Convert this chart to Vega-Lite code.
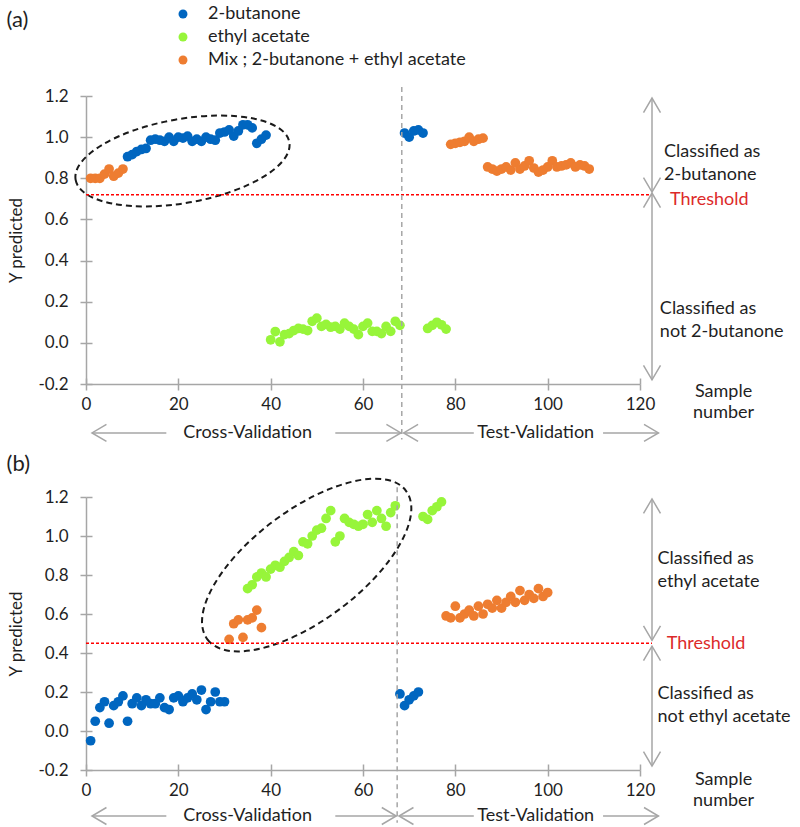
{
 "$schema": "https://vega.github.io/schema/vega-lite/v6.json",
 "padding": {"left": 6, "top": 5, "right": 0, "bottom": 0},
 "background": "white",
 "config": {
  "view": {"stroke": null},
  "font": "Lato",
  "text": {"font": "Lato", "fontSize": 18, "color": "#1f1f1f"},
  "axis": {"labelFont": "Lato", "labelFontSize": 17, "labelColor": "#1f1f1f", "domainColor": "#a6a6a6", "tickColor": "#a6a6a6", "domainWidth": 1.5, "tickWidth": 1.5, "grid": false, "titleFont": "Lato", "titleFontWeight": "normal", "titleColor": "#1f1f1f", "labelOverlap": false, "labelFlush": false}
 },
 "datasets": {
  "a": [
   {"sample":1,"y":0.8,"group":"Mix ; 2-butanone + ethyl acetate"},
   {"sample":2,"y":0.8,"group":"Mix ; 2-butanone + ethyl acetate"},
   {"sample":3,"y":0.8,"group":"Mix ; 2-butanone + ethyl acetate"},
   {"sample":4,"y":0.82,"group":"Mix ; 2-butanone + ethyl acetate"},
   {"sample":5,"y":0.845,"group":"Mix ; 2-butanone + ethyl acetate"},
   {"sample":6,"y":0.81,"group":"Mix ; 2-butanone + ethyl acetate"},
   {"sample":7,"y":0.825,"group":"Mix ; 2-butanone + ethyl acetate"},
   {"sample":8,"y":0.845,"group":"Mix ; 2-butanone + ethyl acetate"},
   {"sample":9,"y":0.905,"group":"2-butanone"},
   {"sample":10,"y":0.915,"group":"2-butanone"},
   {"sample":11,"y":0.93,"group":"2-butanone"},
   {"sample":12,"y":0.94,"group":"2-butanone"},
   {"sample":13,"y":0.945,"group":"2-butanone"},
   {"sample":14,"y":0.985,"group":"2-butanone"},
   {"sample":15,"y":0.99,"group":"2-butanone"},
   {"sample":16,"y":0.985,"group":"2-butanone"},
   {"sample":17,"y":0.98,"group":"2-butanone"},
   {"sample":18,"y":1.0,"group":"2-butanone"},
   {"sample":19,"y":0.98,"group":"2-butanone"},
   {"sample":20,"y":1.0,"group":"2-butanone"},
   {"sample":21,"y":0.995,"group":"2-butanone"},
   {"sample":22,"y":1.005,"group":"2-butanone"},
   {"sample":23,"y":0.98,"group":"2-butanone"},
   {"sample":24,"y":0.99,"group":"2-butanone"},
   {"sample":25,"y":0.98,"group":"2-butanone"},
   {"sample":26,"y":1.0,"group":"2-butanone"},
   {"sample":27,"y":0.99,"group":"2-butanone"},
   {"sample":28,"y":0.985,"group":"2-butanone"},
   {"sample":29,"y":1.02,"group":"2-butanone"},
   {"sample":30,"y":1.025,"group":"2-butanone"},
   {"sample":31,"y":1.035,"group":"2-butanone"},
   {"sample":32,"y":1.005,"group":"2-butanone"},
   {"sample":33,"y":1.03,"group":"2-butanone"},
   {"sample":34,"y":1.06,"group":"2-butanone"},
   {"sample":35,"y":1.06,"group":"2-butanone"},
   {"sample":36,"y":1.045,"group":"2-butanone"},
   {"sample":37,"y":0.97,"group":"2-butanone"},
   {"sample":38,"y":0.99,"group":"2-butanone"},
   {"sample":39,"y":1.01,"group":"2-butanone"},
   {"sample":40,"y":0.015,"group":"ethyl acetate"},
   {"sample":41,"y":0.055,"group":"ethyl acetate"},
   {"sample":42,"y":0.005,"group":"ethyl acetate"},
   {"sample":43,"y":0.04,"group":"ethyl acetate"},
   {"sample":44,"y":0.045,"group":"ethyl acetate"},
   {"sample":45,"y":0.06,"group":"ethyl acetate"},
   {"sample":46,"y":0.07,"group":"ethyl acetate"},
   {"sample":47,"y":0.067,"group":"ethyl acetate"},
   {"sample":48,"y":0.06,"group":"ethyl acetate"},
   {"sample":49,"y":0.105,"group":"ethyl acetate"},
   {"sample":50,"y":0.12,"group":"ethyl acetate"},
   {"sample":51,"y":0.08,"group":"ethyl acetate"},
   {"sample":52,"y":0.09,"group":"ethyl acetate"},
   {"sample":53,"y":0.076,"group":"ethyl acetate"},
   {"sample":54,"y":0.08,"group":"ethyl acetate"},
   {"sample":55,"y":0.067,"group":"ethyl acetate"},
   {"sample":56,"y":0.096,"group":"ethyl acetate"},
   {"sample":57,"y":0.08,"group":"ethyl acetate"},
   {"sample":58,"y":0.067,"group":"ethyl acetate"},
   {"sample":59,"y":0.04,"group":"ethyl acetate"},
   {"sample":60,"y":0.08,"group":"ethyl acetate"},
   {"sample":61,"y":0.096,"group":"ethyl acetate"},
   {"sample":62,"y":0.056,"group":"ethyl acetate"},
   {"sample":63,"y":0.056,"group":"ethyl acetate"},
   {"sample":64,"y":0.045,"group":"ethyl acetate"},
   {"sample":65,"y":0.08,"group":"ethyl acetate"},
   {"sample":66,"y":0.056,"group":"ethyl acetate"},
   {"sample":67,"y":0.105,"group":"ethyl acetate"},
   {"sample":68,"y":0.085,"group":"ethyl acetate"},
   {"sample":69,"y":1.02,"group":"2-butanone"},
   {"sample":70,"y":1.0,"group":"2-butanone"},
   {"sample":71,"y":1.03,"group":"2-butanone"},
   {"sample":72,"y":1.035,"group":"2-butanone"},
   {"sample":73,"y":1.02,"group":"2-butanone"},
   {"sample":74,"y":0.07,"group":"ethyl acetate"},
   {"sample":75,"y":0.085,"group":"ethyl acetate"},
   {"sample":76,"y":0.1,"group":"ethyl acetate"},
   {"sample":77,"y":0.088,"group":"ethyl acetate"},
   {"sample":78,"y":0.067,"group":"ethyl acetate"},
   {"sample":79,"y":0.965,"group":"Mix ; 2-butanone + ethyl acetate"},
   {"sample":80,"y":0.97,"group":"Mix ; 2-butanone + ethyl acetate"},
   {"sample":81,"y":0.975,"group":"Mix ; 2-butanone + ethyl acetate"},
   {"sample":82,"y":0.98,"group":"Mix ; 2-butanone + ethyl acetate"},
   {"sample":83,"y":1.0,"group":"Mix ; 2-butanone + ethyl acetate"},
   {"sample":84,"y":0.98,"group":"Mix ; 2-butanone + ethyl acetate"},
   {"sample":85,"y":0.99,"group":"Mix ; 2-butanone + ethyl acetate"},
   {"sample":86,"y":0.995,"group":"Mix ; 2-butanone + ethyl acetate"},
   {"sample":87,"y":0.855,"group":"Mix ; 2-butanone + ethyl acetate"},
   {"sample":88,"y":0.845,"group":"Mix ; 2-butanone + ethyl acetate"},
   {"sample":89,"y":0.835,"group":"Mix ; 2-butanone + ethyl acetate"},
   {"sample":90,"y":0.845,"group":"Mix ; 2-butanone + ethyl acetate"},
   {"sample":91,"y":0.855,"group":"Mix ; 2-butanone + ethyl acetate"},
   {"sample":92,"y":0.84,"group":"Mix ; 2-butanone + ethyl acetate"},
   {"sample":93,"y":0.875,"group":"Mix ; 2-butanone + ethyl acetate"},
   {"sample":94,"y":0.845,"group":"Mix ; 2-butanone + ethyl acetate"},
   {"sample":95,"y":0.86,"group":"Mix ; 2-butanone + ethyl acetate"},
   {"sample":96,"y":0.885,"group":"Mix ; 2-butanone + ethyl acetate"},
   {"sample":97,"y":0.85,"group":"Mix ; 2-butanone + ethyl acetate"},
   {"sample":98,"y":0.83,"group":"Mix ; 2-butanone + ethyl acetate"},
   {"sample":99,"y":0.84,"group":"Mix ; 2-butanone + ethyl acetate"},
   {"sample":100,"y":0.855,"group":"Mix ; 2-butanone + ethyl acetate"},
   {"sample":101,"y":0.885,"group":"Mix ; 2-butanone + ethyl acetate"},
   {"sample":102,"y":0.855,"group":"Mix ; 2-butanone + ethyl acetate"},
   {"sample":103,"y":0.86,"group":"Mix ; 2-butanone + ethyl acetate"},
   {"sample":104,"y":0.865,"group":"Mix ; 2-butanone + ethyl acetate"},
   {"sample":105,"y":0.875,"group":"Mix ; 2-butanone + ethyl acetate"},
   {"sample":106,"y":0.855,"group":"Mix ; 2-butanone + ethyl acetate"},
   {"sample":107,"y":0.865,"group":"Mix ; 2-butanone + ethyl acetate"},
   {"sample":108,"y":0.86,"group":"Mix ; 2-butanone + ethyl acetate"},
   {"sample":109,"y":0.845,"group":"Mix ; 2-butanone + ethyl acetate"}
  ],
  "b": [
   {"sample":1,"y":-0.05,"group":"2-butanone"},
   {"sample":2,"y":0.05,"group":"2-butanone"},
   {"sample":3,"y":0.12,"group":"2-butanone"},
   {"sample":4,"y":0.15,"group":"2-butanone"},
   {"sample":5,"y":0.04,"group":"2-butanone"},
   {"sample":6,"y":0.13,"group":"2-butanone"},
   {"sample":7,"y":0.15,"group":"2-butanone"},
   {"sample":8,"y":0.18,"group":"2-butanone"},
   {"sample":9,"y":0.05,"group":"2-butanone"},
   {"sample":10,"y":0.14,"group":"2-butanone"},
   {"sample":11,"y":0.17,"group":"2-butanone"},
   {"sample":12,"y":0.13,"group":"2-butanone"},
   {"sample":13,"y":0.16,"group":"2-butanone"},
   {"sample":14,"y":0.14,"group":"2-butanone"},
   {"sample":15,"y":0.14,"group":"2-butanone"},
   {"sample":16,"y":0.17,"group":"2-butanone"},
   {"sample":17,"y":0.12,"group":"2-butanone"},
   {"sample":18,"y":0.11,"group":"2-butanone"},
   {"sample":19,"y":0.17,"group":"2-butanone"},
   {"sample":20,"y":0.18,"group":"2-butanone"},
   {"sample":21,"y":0.15,"group":"2-butanone"},
   {"sample":22,"y":0.17,"group":"2-butanone"},
   {"sample":23,"y":0.19,"group":"2-butanone"},
   {"sample":24,"y":0.16,"group":"2-butanone"},
   {"sample":25,"y":0.21,"group":"2-butanone"},
   {"sample":26,"y":0.11,"group":"2-butanone"},
   {"sample":27,"y":0.15,"group":"2-butanone"},
   {"sample":28,"y":0.2,"group":"2-butanone"},
   {"sample":29,"y":0.15,"group":"2-butanone"},
   {"sample":30,"y":0.15,"group":"2-butanone"},
   {"sample":31,"y":0.47,"group":"Mix ; 2-butanone + ethyl acetate"},
   {"sample":32,"y":0.55,"group":"Mix ; 2-butanone + ethyl acetate"},
   {"sample":33,"y":0.57,"group":"Mix ; 2-butanone + ethyl acetate"},
   {"sample":34,"y":0.48,"group":"Mix ; 2-butanone + ethyl acetate"},
   {"sample":35,"y":0.57,"group":"Mix ; 2-butanone + ethyl acetate"},
   {"sample":36,"y":0.58,"group":"Mix ; 2-butanone + ethyl acetate"},
   {"sample":37,"y":0.62,"group":"Mix ; 2-butanone + ethyl acetate"},
   {"sample":38,"y":0.53,"group":"Mix ; 2-butanone + ethyl acetate"},
   {"sample":35,"y":0.73,"group":"ethyl acetate"},
   {"sample":36,"y":0.75,"group":"ethyl acetate"},
   {"sample":37,"y":0.79,"group":"ethyl acetate"},
   {"sample":38,"y":0.81,"group":"ethyl acetate"},
   {"sample":39,"y":0.79,"group":"ethyl acetate"},
   {"sample":40,"y":0.83,"group":"ethyl acetate"},
   {"sample":41,"y":0.85,"group":"ethyl acetate"},
   {"sample":42,"y":0.84,"group":"ethyl acetate"},
   {"sample":43,"y":0.87,"group":"ethyl acetate"},
   {"sample":44,"y":0.89,"group":"ethyl acetate"},
   {"sample":45,"y":0.92,"group":"ethyl acetate"},
   {"sample":46,"y":0.9,"group":"ethyl acetate"},
   {"sample":47,"y":0.97,"group":"ethyl acetate"},
   {"sample":48,"y":0.96,"group":"ethyl acetate"},
   {"sample":49,"y":1.0,"group":"ethyl acetate"},
   {"sample":50,"y":1.03,"group":"ethyl acetate"},
   {"sample":51,"y":1.04,"group":"ethyl acetate"},
   {"sample":52,"y":1.09,"group":"ethyl acetate"},
   {"sample":53,"y":1.13,"group":"ethyl acetate"},
   {"sample":54,"y":0.97,"group":"ethyl acetate"},
   {"sample":55,"y":1.0,"group":"ethyl acetate"},
   {"sample":56,"y":1.09,"group":"ethyl acetate"},
   {"sample":57,"y":1.07,"group":"ethyl acetate"},
   {"sample":58,"y":1.06,"group":"ethyl acetate"},
   {"sample":59,"y":1.05,"group":"ethyl acetate"},
   {"sample":60,"y":1.06,"group":"ethyl acetate"},
   {"sample":61,"y":1.11,"group":"ethyl acetate"},
   {"sample":62,"y":1.07,"group":"ethyl acetate"},
   {"sample":63,"y":1.13,"group":"ethyl acetate"},
   {"sample":64,"y":1.09,"group":"ethyl acetate"},
   {"sample":65,"y":1.05,"group":"ethyl acetate"},
   {"sample":66,"y":1.12,"group":"ethyl acetate"},
   {"sample":67,"y":1.155,"group":"ethyl acetate"},
   {"sample":68,"y":0.19,"group":"2-butanone"},
   {"sample":69,"y":0.13,"group":"2-butanone"},
   {"sample":70,"y":0.16,"group":"2-butanone"},
   {"sample":71,"y":0.18,"group":"2-butanone"},
   {"sample":72,"y":0.2,"group":"2-butanone"},
   {"sample":73,"y":1.1,"group":"ethyl acetate"},
   {"sample":74,"y":1.085,"group":"ethyl acetate"},
   {"sample":75,"y":1.13,"group":"ethyl acetate"},
   {"sample":76,"y":1.15,"group":"ethyl acetate"},
   {"sample":77,"y":1.175,"group":"ethyl acetate"},
   {"sample":78,"y":0.59,"group":"Mix ; 2-butanone + ethyl acetate"},
   {"sample":79,"y":0.58,"group":"Mix ; 2-butanone + ethyl acetate"},
   {"sample":80,"y":0.64,"group":"Mix ; 2-butanone + ethyl acetate"},
   {"sample":81,"y":0.58,"group":"Mix ; 2-butanone + ethyl acetate"},
   {"sample":82,"y":0.6,"group":"Mix ; 2-butanone + ethyl acetate"},
   {"sample":83,"y":0.62,"group":"Mix ; 2-butanone + ethyl acetate"},
   {"sample":84,"y":0.59,"group":"Mix ; 2-butanone + ethyl acetate"},
   {"sample":85,"y":0.64,"group":"Mix ; 2-butanone + ethyl acetate"},
   {"sample":86,"y":0.6,"group":"Mix ; 2-butanone + ethyl acetate"},
   {"sample":87,"y":0.65,"group":"Mix ; 2-butanone + ethyl acetate"},
   {"sample":88,"y":0.63,"group":"Mix ; 2-butanone + ethyl acetate"},
   {"sample":89,"y":0.67,"group":"Mix ; 2-butanone + ethyl acetate"},
   {"sample":90,"y":0.63,"group":"Mix ; 2-butanone + ethyl acetate"},
   {"sample":91,"y":0.66,"group":"Mix ; 2-butanone + ethyl acetate"},
   {"sample":92,"y":0.69,"group":"Mix ; 2-butanone + ethyl acetate"},
   {"sample":93,"y":0.66,"group":"Mix ; 2-butanone + ethyl acetate"},
   {"sample":94,"y":0.72,"group":"Mix ; 2-butanone + ethyl acetate"},
   {"sample":95,"y":0.67,"group":"Mix ; 2-butanone + ethyl acetate"},
   {"sample":96,"y":0.7,"group":"Mix ; 2-butanone + ethyl acetate"},
   {"sample":97,"y":0.68,"group":"Mix ; 2-butanone + ethyl acetate"},
   {"sample":98,"y":0.73,"group":"Mix ; 2-butanone + ethyl acetate"},
   {"sample":99,"y":0.69,"group":"Mix ; 2-butanone + ethyl acetate"},
   {"sample":100,"y":0.71,"group":"Mix ; 2-butanone + ethyl acetate"}
  ]
 },
 "spacing": 8,
 "resolve": {"scale": {"color": "independent"}, "legend": {"color": "independent"}},
 "vconcat": [
  {
   "width": 554, "height": 288,
   "resolve": {"axis": {"x": "independent", "y": "independent"}},
   "layer": [
    {"data": {"name": "a"}, "mark": {"type": "circle", "size": 95, "opacity": 1},
     "encoding": {
      "x": {"field": "sample", "type": "quantitative", "scale": {"domain": [0, 120], "nice": false},
            "axis": {"orient": "bottom", "values": [0, 20, 40, 60, 80, 100, 120], "format": "d", "title": null, "tickSize": 6, "labelPadding": 6, "labelOverlap": false, "labelFlush": false}},
      "y": {"field": "y", "type": "quantitative", "scale": {"domain": [-0.2, 1.2], "nice": false},
            "axis": {"orient": "left", "values": [-0.2, 0, 0.2, 0.4, 0.6, 0.8, 1, 1.2], "labelExpr": "replace(format(datum.value, '.1f'), '\u2212', '-')", "title": "Y predicted", "titleFontSize": 17, "titlePadding": 12, "tickSize": 6, "labelPadding": 12, "labelOverlap": false}},
      "color": {"field": "group", "type": "nominal",
                "scale": {"domain": ["2-butanone", "ethyl acetate", "Mix ; 2-butanone + ethyl acetate"], "range": ["#0066c0", "#97f53a", "#ee7d31"]},
                "legend": {"orient": "none", "legendX": 88, "legendY": -91, "title": null, "symbolType": "circle", "symbolSize": 80, "labelFont": "Lato", "labelFontSize": 18, "labelLimit": 500, "labelColor": "#1f1f1f", "rowPadding": 5, "labelOffset": 16, "padding": 0, "symbolStrokeWidth": 0, "symbolOpacity": 1}}
     }},
    {"data": {"values": [{}]}, "mark": {"type": "point", "opacity": 0},
     "encoding": {"x": {"datum": 0, "type": "quantitative", "axis": {"orient": "bottom", "offset": -6, "values": [0, 20, 40, 60, 80, 100, 120], "domain": false, "labels": false, "title": null, "tickSize": 6}},
                  "y": {"datum": 0, "type": "quantitative", "axis": {"orient": "left", "offset": -6, "values": [-0.2, 0, 0.2, 0.4, 0.6, 0.8, 1, 1.2], "domain": false, "labels": false, "title": null, "tickSize": 6}}}},
    {"data": {"values": [{}]}, "mark": {"type": "point", "shape": "M-1,0A1,0.387,0,1,0,1,0A1,0.387,0,1,0,-1,0Z", "size": 47089, "angle": -10, "filled": false, "color": "#1a1a1a", "strokeWidth": 2, "strokeDash": [6, 4], "opacity": 1},
     "encoding": {"x": {"datum": 20.9, "type": "quantitative", "axis": null}, "y": {"datum": 0.884, "type": "quantitative", "axis": null}}},
    {"data": {"values": [{}]}, "mark": {"type": "rule", "color": "#ff0000", "strokeWidth": 1.5, "strokeDash": [3, 2]},
     "encoding": {"x": {"datum": 0, "type": "quantitative", "axis": null}, "x2": {"datum": 122.6}, "y": {"datum": 0.72, "type": "quantitative", "axis": null}}},
    {"data": {"values": [{}]}, "mark": {"type": "rule", "color": "#a6a6a6", "strokeWidth": 1.5, "strokeDash": [5, 4]},
     "encoding": {"x": {"datum": 68.4, "type": "quantitative", "axis": null}, "y": {"datum": 1.244, "type": "quantitative", "axis": null}, "y2": {"datum": -0.47}}},
    {"data": {"values": [{}]}, "mark": {"type": "text", "text": "(a)", "align": "left", "baseline": "middle", "fontSize": 22},
     "encoding": {"x": {"datum": -17.2, "type": "quantitative", "axis": null}, "y": {"datum": 1.57, "type": "quantitative", "axis": null}}},
    {"data": {"values": [{}]}, "mark": {"type": "text", "text": ["Classified as", "2-butanone"], "align": "left", "baseline": "middle", "lineHeight": 23},
     "encoding": {"x": {"datum": 125.2, "type": "quantitative", "axis": null}, "y": {"datum": 0.93, "type": "quantitative", "axis": null}}},
    {"data": {"values": [{}]}, "mark": {"type": "text", "text": "Threshold", "align": "left", "baseline": "middle", "color": "#dc2a2a"},
     "encoding": {"x": {"datum": 126.5, "type": "quantitative", "axis": null}, "y": {"datum": 0.694, "type": "quantitative", "axis": null}}},
    {"data": {"values": [{}]}, "mark": {"type": "text", "text": ["Classified as", "not 2-butanone"], "align": "left", "baseline": "middle", "lineHeight": 23},
     "encoding": {"x": {"datum": 124.3, "type": "quantitative", "axis": null}, "y": {"datum": 0.167, "type": "quantitative", "axis": null}}},
    {"data": {"values": [{}]}, "mark": {"type": "text", "text": ["Sample", "number"], "align": "center", "baseline": "middle", "lineHeight": 21},
     "encoding": {"x": {"datum": 138.1, "type": "quantitative", "axis": null}, "y": {"datum": -0.241, "type": "quantitative", "axis": null}}},
    {"data": {"values": [{}]}, "mark": {"type": "text", "text": "Cross-Validation", "align": "center", "baseline": "middle"},
     "encoding": {"x": {"datum": 35, "type": "quantitative", "axis": null}, "y": {"datum": -0.438, "type": "quantitative", "axis": null}}},
    {"data": {"values": [{}]}, "mark": {"type": "text", "text": "Test-Validation", "align": "center", "baseline": "middle"},
     "encoding": {"x": {"datum": 97.4, "type": "quantitative", "axis": null}, "y": {"datum": -0.438, "type": "quantitative", "axis": null}}},
    {"data": {"values": [{}]}, "mark": {"type": "rule", "color": "#a6a6a6", "strokeWidth": 1.5},
     "encoding": {"x": {"datum": 122.6, "type": "quantitative", "axis": null}, "y": {"datum": 1.19, "type": "quantitative", "axis": null}, "y2": {"datum": 0.733}}},
    {"data": {"values": [{}]}, "mark": {"type": "rule", "color": "#a6a6a6", "strokeWidth": 1.5},
     "encoding": {"x": {"datum": 122.6, "type": "quantitative", "axis": null}, "y": {"datum": 0.728, "type": "quantitative", "axis": null}, "y2": {"datum": -0.18}}},
    {"data": {"values": [{}]}, "mark": {"type": "rule", "color": "#a6a6a6", "strokeWidth": 1.5},
     "encoding": {"x": {"datum": 1.3, "type": "quantitative", "axis": null}, "x2": {"datum": 17.4}, "y": {"datum": -0.438, "type": "quantitative", "axis": null}}},
    {"data": {"values": [{}]}, "mark": {"type": "rule", "color": "#a6a6a6", "strokeWidth": 1.5},
     "encoding": {"x": {"datum": 54, "type": "quantitative", "axis": null}, "x2": {"datum": 68.2}, "y": {"datum": -0.438, "type": "quantitative", "axis": null}}},
    {"data": {"values": [{}]}, "mark": {"type": "rule", "color": "#a6a6a6", "strokeWidth": 1.5},
     "encoding": {"x": {"datum": 68.8, "type": "quantitative", "axis": null}, "x2": {"datum": 84}, "y": {"datum": -0.438, "type": "quantitative", "axis": null}}},
    {"data": {"values": [{}]}, "mark": {"type": "rule", "color": "#a6a6a6", "strokeWidth": 1.5},
     "encoding": {"x": {"datum": 112, "type": "quantitative", "axis": null}, "x2": {"datum": 124}, "y": {"datum": -0.438, "type": "quantitative", "axis": null}}},
    {"data": {"values": [{}]}, "mark": {"type": "point", "shape": "M-1,1.7L0,0L1,1.7", "size": 289, "filled": false, "color": "#a6a6a6", "strokeWidth": 1.5, "opacity": 1},
     "encoding": {"x": {"datum": 122.6, "type": "quantitative", "axis": null}, "y": {"datum": 1.19, "type": "quantitative", "axis": null}}},
    {"data": {"values": [{}]}, "mark": {"type": "point", "shape": "M-1,-1.7L0,0L1,-1.7", "size": 289, "filled": false, "color": "#a6a6a6", "strokeWidth": 1.5, "opacity": 1},
     "encoding": {"x": {"datum": 122.6, "type": "quantitative", "axis": null}, "y": {"datum": 0.733, "type": "quantitative", "axis": null}}},
    {"data": {"values": [{}]}, "mark": {"type": "point", "shape": "M-1,1.7L0,0L1,1.7", "size": 289, "filled": false, "color": "#a6a6a6", "strokeWidth": 1.5, "opacity": 1},
     "encoding": {"x": {"datum": 122.6, "type": "quantitative", "axis": null}, "y": {"datum": 0.728, "type": "quantitative", "axis": null}}},
    {"data": {"values": [{}]}, "mark": {"type": "point", "shape": "M-1,-1.7L0,0L1,-1.7", "size": 289, "filled": false, "color": "#a6a6a6", "strokeWidth": 1.5, "opacity": 1},
     "encoding": {"x": {"datum": 122.6, "type": "quantitative", "axis": null}, "y": {"datum": -0.18, "type": "quantitative", "axis": null}}},
    {"data": {"values": [{}]}, "mark": {"type": "point", "shape": "M1.7,-1L0,0L1.7,1", "size": 289, "filled": false, "color": "#a6a6a6", "strokeWidth": 1.5, "opacity": 1},
     "encoding": {"x": {"datum": 1.3, "type": "quantitative", "axis": null}, "y": {"datum": -0.438, "type": "quantitative", "axis": null}}},
    {"data": {"values": [{}]}, "mark": {"type": "point", "shape": "M-1.7,-1L0,0L-1.7,1", "size": 289, "filled": false, "color": "#a6a6a6", "strokeWidth": 1.5, "opacity": 1},
     "encoding": {"x": {"datum": 68.2, "type": "quantitative", "axis": null}, "y": {"datum": -0.438, "type": "quantitative", "axis": null}}},
    {"data": {"values": [{}]}, "mark": {"type": "point", "shape": "M1.7,-1L0,0L1.7,1", "size": 289, "filled": false, "color": "#a6a6a6", "strokeWidth": 1.5, "opacity": 1},
     "encoding": {"x": {"datum": 68.8, "type": "quantitative", "axis": null}, "y": {"datum": -0.438, "type": "quantitative", "axis": null}}},
    {"data": {"values": [{}]}, "mark": {"type": "point", "shape": "M-1.7,-1L0,0L-1.7,1", "size": 289, "filled": false, "color": "#a6a6a6", "strokeWidth": 1.5, "opacity": 1},
     "encoding": {"x": {"datum": 124, "type": "quantitative", "axis": null}, "y": {"datum": -0.438, "type": "quantitative", "axis": null}}}
   ]
  },
  {
   "width": 554, "height": 273,
   "resolve": {"axis": {"x": "independent", "y": "independent"}},
   "layer": [
    {"data": {"name": "b"}, "mark": {"type": "circle", "size": 95, "opacity": 1},
     "encoding": {
      "x": {"field": "sample", "type": "quantitative", "scale": {"domain": [0, 120], "nice": false},
            "axis": {"orient": "bottom", "values": [0, 20, 40, 60, 80, 100, 120], "format": "d", "title": null, "tickSize": 6, "labelPadding": 6, "labelOverlap": false, "labelFlush": false}},
      "y": {"field": "y", "type": "quantitative", "scale": {"domain": [-0.2, 1.2], "nice": false},
            "axis": {"orient": "left", "values": [-0.2, 0, 0.2, 0.4, 0.6, 0.8, 1, 1.2], "labelExpr": "replace(format(datum.value, '.1f'), '\u2212', '-')", "title": "Y predicted", "titleFontSize": 17, "titlePadding": 12, "tickSize": 6, "labelPadding": 12, "labelOverlap": false}},
      "color": {"field": "group", "type": "nominal",
                "scale": {"domain": ["2-butanone", "ethyl acetate", "Mix ; 2-butanone + ethyl acetate"], "range": ["#0066c0", "#97f53a", "#ee7d31"]},
                "legend": null}
     }},
    {"data": {"values": [{}]}, "mark": {"type": "point", "opacity": 0},
     "encoding": {"x": {"datum": 0, "type": "quantitative", "axis": {"orient": "bottom", "offset": -6, "values": [0, 20, 40, 60, 80, 100, 120], "domain": false, "labels": false, "title": null, "tickSize": 6}},
                  "y": {"datum": 0, "type": "quantitative", "axis": {"orient": "left", "offset": -6, "values": [-0.2, 0, 0.2, 0.4, 0.6, 0.8, 1, 1.2], "domain": false, "labels": false, "title": null, "tickSize": 6}}}},
    {"data": {"values": [{}]}, "mark": {"type": "point", "shape": "M-1,0A1,0.444,0,1,0,1,0A1,0.444,0,1,0,-1,0Z", "size": 61504, "angle": -36.8, "filled": false, "color": "#1a1a1a", "strokeWidth": 2, "strokeDash": [6, 4], "opacity": 1},
     "encoding": {"x": {"datum": 47.8, "type": "quantitative", "axis": null}, "y": {"datum": 0.851, "type": "quantitative", "axis": null}}},
    {"data": {"values": [{}]}, "mark": {"type": "rule", "color": "#ff0000", "strokeWidth": 1.5, "strokeDash": [3, 2]},
     "encoding": {"x": {"datum": 0, "type": "quantitative", "axis": null}, "x2": {"datum": 122.6}, "y": {"datum": 0.45, "type": "quantitative", "axis": null}}},
    {"data": {"values": [{}]}, "mark": {"type": "rule", "color": "#a6a6a6", "strokeWidth": 1.5, "strokeDash": [5, 4]},
     "encoding": {"x": {"datum": 67.4, "type": "quantitative", "axis": null}, "y": {"datum": 1.25, "type": "quantitative", "axis": null}, "y2": {"datum": -0.47}}},
    {"data": {"values": [{}]}, "mark": {"type": "text", "text": "(b)", "align": "left", "baseline": "middle", "fontSize": 22},
     "encoding": {"x": {"datum": -17.2, "type": "quantitative", "axis": null}, "y": {"datum": 1.369, "type": "quantitative", "axis": null}}},
    {"data": {"values": [{}]}, "mark": {"type": "text", "text": ["Classified as", "ethyl acetate"], "align": "left", "baseline": "middle", "lineHeight": 23},
     "encoding": {"x": {"datum": 123.8, "type": "quantitative", "axis": null}, "y": {"datum": 0.88, "type": "quantitative", "axis": null}}},
    {"data": {"values": [{}]}, "mark": {"type": "text", "text": "Threshold", "align": "left", "baseline": "middle", "color": "#dc2a2a"},
     "encoding": {"x": {"datum": 125.8, "type": "quantitative", "axis": null}, "y": {"datum": 0.445, "type": "quantitative", "axis": null}}},
    {"data": {"values": [{}]}, "mark": {"type": "text", "text": ["Classified as", "not ethyl acetate"], "align": "left", "baseline": "middle", "lineHeight": 23},
     "encoding": {"x": {"datum": 123.8, "type": "quantitative", "axis": null}, "y": {"datum": 0.19, "type": "quantitative", "axis": null}}},
    {"data": {"values": [{}]}, "mark": {"type": "text", "text": ["Sample", "number"], "align": "center", "baseline": "middle", "lineHeight": 21},
     "encoding": {"x": {"datum": 138.1, "type": "quantitative", "axis": null}, "y": {"datum": -0.25, "type": "quantitative", "axis": null}}},
    {"data": {"values": [{}]}, "mark": {"type": "text", "text": "Cross-Validation", "align": "center", "baseline": "middle"},
     "encoding": {"x": {"datum": 35, "type": "quantitative", "axis": null}, "y": {"datum": -0.436, "type": "quantitative", "axis": null}}},
    {"data": {"values": [{}]}, "mark": {"type": "text", "text": "Test-Validation", "align": "center", "baseline": "middle"},
     "encoding": {"x": {"datum": 97.4, "type": "quantitative", "axis": null}, "y": {"datum": -0.436, "type": "quantitative", "axis": null}}},
    {"data": {"values": [{}]}, "mark": {"type": "rule", "color": "#a6a6a6", "strokeWidth": 1.5},
     "encoding": {"x": {"datum": 122.6, "type": "quantitative", "axis": null}, "y": {"datum": 1.19, "type": "quantitative", "axis": null}, "y2": {"datum": 0.465}}},
    {"data": {"values": [{}]}, "mark": {"type": "rule", "color": "#a6a6a6", "strokeWidth": 1.5},
     "encoding": {"x": {"datum": 122.6, "type": "quantitative", "axis": null}, "y": {"datum": 0.435, "type": "quantitative", "axis": null}, "y2": {"datum": -0.18}}},
    {"data": {"values": [{}]}, "mark": {"type": "rule", "color": "#a6a6a6", "strokeWidth": 1.5},
     "encoding": {"x": {"datum": 1.3, "type": "quantitative", "axis": null}, "x2": {"datum": 17.4}, "y": {"datum": -0.436, "type": "quantitative", "axis": null}}},
    {"data": {"values": [{}]}, "mark": {"type": "rule", "color": "#a6a6a6", "strokeWidth": 1.5},
     "encoding": {"x": {"datum": 54, "type": "quantitative", "axis": null}, "x2": {"datum": 67.2}, "y": {"datum": -0.436, "type": "quantitative", "axis": null}}},
    {"data": {"values": [{}]}, "mark": {"type": "rule", "color": "#a6a6a6", "strokeWidth": 1.5},
     "encoding": {"x": {"datum": 67.8, "type": "quantitative", "axis": null}, "x2": {"datum": 84}, "y": {"datum": -0.436, "type": "quantitative", "axis": null}}},
    {"data": {"values": [{}]}, "mark": {"type": "rule", "color": "#a6a6a6", "strokeWidth": 1.5},
     "encoding": {"x": {"datum": 112, "type": "quantitative", "axis": null}, "x2": {"datum": 124}, "y": {"datum": -0.436, "type": "quantitative", "axis": null}}},
    {"data": {"values": [{}]}, "mark": {"type": "point", "shape": "M-1,1.7L0,0L1,1.7", "size": 289, "filled": false, "color": "#a6a6a6", "strokeWidth": 1.5, "opacity": 1},
     "encoding": {"x": {"datum": 122.6, "type": "quantitative", "axis": null}, "y": {"datum": 1.19, "type": "quantitative", "axis": null}}},
    {"data": {"values": [{}]}, "mark": {"type": "point", "shape": "M-1,-1.7L0,0L1,-1.7", "size": 289, "filled": false, "color": "#a6a6a6", "strokeWidth": 1.5, "opacity": 1},
     "encoding": {"x": {"datum": 122.6, "type": "quantitative", "axis": null}, "y": {"datum": 0.465, "type": "quantitative", "axis": null}}},
    {"data": {"values": [{}]}, "mark": {"type": "point", "shape": "M-1,1.7L0,0L1,1.7", "size": 289, "filled": false, "color": "#a6a6a6", "strokeWidth": 1.5, "opacity": 1},
     "encoding": {"x": {"datum": 122.6, "type": "quantitative", "axis": null}, "y": {"datum": 0.435, "type": "quantitative", "axis": null}}},
    {"data": {"values": [{}]}, "mark": {"type": "point", "shape": "M-1,-1.7L0,0L1,-1.7", "size": 289, "filled": false, "color": "#a6a6a6", "strokeWidth": 1.5, "opacity": 1},
     "encoding": {"x": {"datum": 122.6, "type": "quantitative", "axis": null}, "y": {"datum": -0.18, "type": "quantitative", "axis": null}}},
    {"data": {"values": [{}]}, "mark": {"type": "point", "shape": "M1.7,-1L0,0L1.7,1", "size": 289, "filled": false, "color": "#a6a6a6", "strokeWidth": 1.5, "opacity": 1},
     "encoding": {"x": {"datum": 1.3, "type": "quantitative", "axis": null}, "y": {"datum": -0.436, "type": "quantitative", "axis": null}}},
    {"data": {"values": [{}]}, "mark": {"type": "point", "shape": "M-1.7,-1L0,0L-1.7,1", "size": 289, "filled": false, "color": "#a6a6a6", "strokeWidth": 1.5, "opacity": 1},
     "encoding": {"x": {"datum": 67.2, "type": "quantitative", "axis": null}, "y": {"datum": -0.436, "type": "quantitative", "axis": null}}},
    {"data": {"values": [{}]}, "mark": {"type": "point", "shape": "M1.7,-1L0,0L1.7,1", "size": 289, "filled": false, "color": "#a6a6a6", "strokeWidth": 1.5, "opacity": 1},
     "encoding": {"x": {"datum": 67.8, "type": "quantitative", "axis": null}, "y": {"datum": -0.436, "type": "quantitative", "axis": null}}},
    {"data": {"values": [{}]}, "mark": {"type": "point", "shape": "M-1.7,-1L0,0L-1.7,1", "size": 289, "filled": false, "color": "#a6a6a6", "strokeWidth": 1.5, "opacity": 1},
     "encoding": {"x": {"datum": 124, "type": "quantitative", "axis": null}, "y": {"datum": -0.436, "type": "quantitative", "axis": null}}}
   ]
  }
 ]
}
